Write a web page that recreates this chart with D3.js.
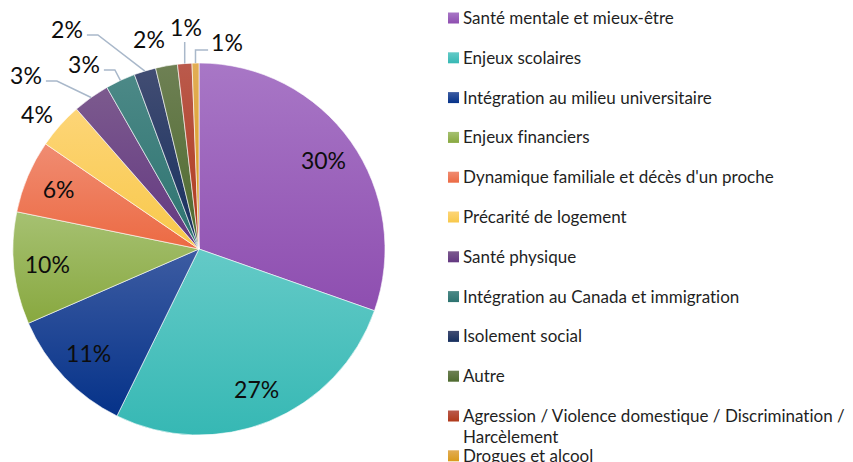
<!DOCTYPE html>
<html>
<head>
<meta charset="utf-8">
<script src="https://cdn.jsdelivr.net/npm/d3@7"></script>
<style>
  body { margin: 0; background: #fff; }
  svg { display: block; }
  text { font-variant-ligatures: none; }
</style>
</head>
<body>
<svg id="chart" width="853" height="462"></svg>
<script>
// data
var categories = [
    "Santé mentale et mieux-être",
    "Enjeux scolaires",
    "Intégration au milieu universitaire",
    "Enjeux financiers",
    "Dynamique familiale et décès d'un proche",
    "Précarité de logement",
    "Santé physique",
    "Intégration au Canada et immigration",
    "Isolement social",
    "Autre",
    "Agression / Violence domestique / Discrimination / Harcèlement",
    "Drogues et alcool"
];
var values = [30.4, 26.9, 11.2, 9.75, 6.35, 4.0, 3.2, 2.6, 1.9, 1.9, 1.25, 0.6];

// gradient colours, light (top) to dark (bottom)
var colorsTop = ["#a877c6", "#64cac7", "#3d5ca2", "#a6c172", "#f08c72", "#fdd577",
                 "#7c5a8e", "#4c8987", "#424d73", "#6e8054", "#ba5a4c", "#e2ad55"];
var colorsBottom = ["#8e4eb0", "#36b8b4", "#053289", "#88a83f", "#ec6a43", "#f8c84a",
                    "#633881", "#2d7370", "#162f5e", "#4e6a2e", "#b0391a", "#d99a1b"];

// where the small outside labels sit, relative to the pie centre
var outsideSpots = [null, null, null, null, null,
    [-162, -134, "none"], [-173, -173, "right"], [-115, -184, "right"], [-132, -219, "right"],
    [-50, -209, "none"], [-13, -221, "below"], [28, -206, "left"]];

var cx = 199, cy = 249, R = 186;
var font = "Lato, 'Open Sans', sans-serif";

var svg = d3.select("#chart");
var defs = svg.append("defs");

categories.forEach(function(c, i) {
    var g = defs.append("linearGradient")
        .attr("id", "grad" + i)
        .attr("x1", 0).attr("y1", 0).attr("x2", 0).attr("y2", 1);
    g.append("stop").attr("offset", "0%").attr("stop-color", colorsTop[i]);
    g.append("stop").attr("offset", "100%").attr("stop-color", colorsBottom[i]);
});

var data = categories.map(function(c, i) { return {name: c, value: values[i], i: i}; });
var total = d3.sum(values);

var pie = d3.pie().sort(null).value(function(d) { return d.value; });
var arcs = pie(data);

var arc = d3.arc().innerRadius(0).outerRadius(R);
var labelArc = d3.arc().innerRadius(R * 0.82).outerRadius(R * 0.82);

var gPie = svg.append("g").attr("transform", "translate(" + cx + "," + cy + ")");

gPie.selectAll("path.slice")
    .data(arcs)
    .enter().append("path")
    .attr("class", "slice")
    .attr("d", arc)
    .attr("fill", function(d) { return "url(#grad" + d.data.i + ")"; })
    .attr("stroke", "#fff")
    .attr("stroke-width", 0.6);

function pct(d) { return Math.round(d.data.value / total * 100) + "%"; }

// labels inside the big slices
gPie.selectAll("text.inside")
    .data(arcs.filter(function(d) { return !outsideSpots[d.data.i]; }))
    .enter().append("text")
    .attr("class", "inside")
    .attr("transform", function(d) { return "translate(" + labelArc.centroid(d) + ")"; })
    .attr("text-anchor", "middle")
    .attr("dy", "0.35em")
    .attr("font-family", font)
    .attr("font-size", "23px")
    .attr("fill", "#0d0d0d")
    .text(pct);

// outside labels with leader lines
var outside = arcs.filter(function(d) { return outsideSpots[d.data.i]; });
outside.forEach(function(d) {
    var spot = outsideSpots[d.data.i];
    var mid = (d.startAngle + d.endAngle) / 2;
    var edge = [R * Math.sin(mid), -R * Math.cos(mid)];
    var t = gPie.append("text")
        .attr("x", spot[0]).attr("y", spot[1])
        .attr("text-anchor", "middle")
        .attr("dy", "0.35em")
        .attr("font-family", font)
        .attr("font-size", "23px")
        .attr("fill", "#0d0d0d")
        .text(pct(d));
    var bb = t.node().getBBox();
    var pts = null;
    if (spot[2] == "right") {
        var s = [bb.x + bb.width + 4, spot[1] + 5];
        pts = [s, [s[0] + 11, s[1]], edge];
    } else if (spot[2] == "left") {
        var s2 = [bb.x - 3, spot[1] + 7];
        pts = [s2, [edge[0], s2[1]], edge];
    } else if (spot[2] == "below") {
        pts = [[edge[0], spot[1] + 14], edge];
    }
    if (pts) {
        gPie.insert("path", "text")
            .attr("d", d3.line()(pts))
            .attr("fill", "none")
            .attr("stroke", "#a9b8ca")
            .attr("stroke-width", 1.5);
    }
});

// legend
var legX = 448, legY = 18, legStep = 39.8, sw = 11;
var legend = svg.append("g");
var rowY = legY;
data.forEach(function(d) {
    var row = legend.append("g").attr("transform", "translate(" + legX + "," + rowY + ")");
    row.append("rect")
        .attr("x", 0).attr("y", -sw / 2)
        .attr("width", sw).attr("height", sw)
        .attr("fill", "url(#grad" + d.i + ")");
    var txt = row.append("text")
        .attr("x", sw + 4)
        .attr("dy", "0.35em")
        .attr("font-family", font)
        .attr("font-size", "17px")
        .attr("fill", "#1f1f1f");
    // word wrap, a "/" stays on the line of the word before it
    var words = d.name.split(/ (?!\/)/), line = [];
    var tspan = txt.append("tspan").attr("x", sw + 4);
    words.forEach(function(w) {
        line.push(w);
        tspan.text(line.join(" "));
        if (tspan.node().getComputedTextLength() > 853 - legX - sw - 4 && line.length > 1) {
            line.pop();
            tspan.text(line.join(" "));
            line = [w];
            tspan = txt.append("tspan").attr("x", sw + 4).attr("dy", "21px").text(w);
        }
    });
    rowY += legStep;
});
</script>
</body>
</html>
